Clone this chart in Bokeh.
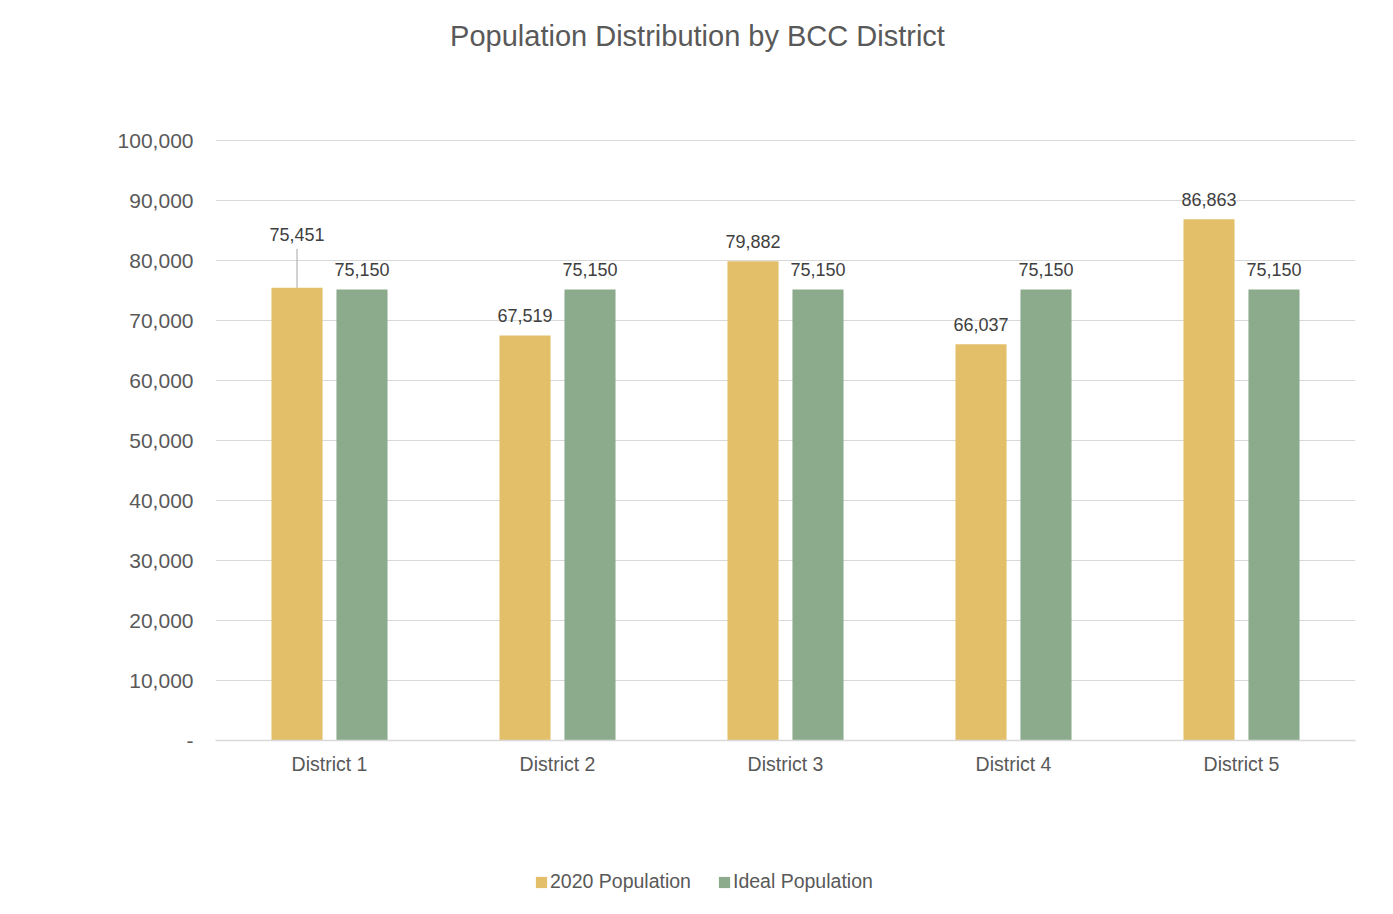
from bokeh.plotting import figure
from bokeh.layouts import column
from bokeh.models import (ColumnDataSource, FactorRange, Range1d, LabelSet, Label, Legend, LegendItem,
                          NumeralTickFormatter)
from bokeh.transform import dodge
from bokeh.embed import file_html
from bokeh.resources import INLINE
from bokeh.core.properties import value

districts = ["District 1", "District 2", "District 3", "District 4", "District 5"]
pop_2020 = [75451, 67519, 79882, 66037, 86863]
pop_ideal = [75150, 75150, 75150, 75150, 75150]
y_ticks = [0, 10000, 20000, 30000, 40000, 50000, 60000, 70000, 80000, 90000, 100000]
series_names = ["2020 Population", "Ideal Population"]
title_text = "Population Distribution by BCC District"

FONT = "Liberation Sans"
TXT = "#595959"
YEL = "#E4BF6A"
GRN = "#8CAB8D"

W = 1385
H_MAIN = 780
H_LEG = 126
FL, FR, FT, FB = 215, 30, 0, 40
frame_h = H_MAIN - FT - FB           # 740 px
px_per_10k = 60.0                    # 100,000 spans 600 px
y_end = frame_h / px_per_10k * 10000
units_per_px = 10000 / px_per_10k

off_2020 = [53, 20, 20, 20, 20]
off_ideal = [20, 20, 20, 20, 20]

src = ColumnDataSource(dict(
    district=districts,
    p2020=pop_2020,
    ideal=pop_ideal,
    t2020=[f"{v:,}" for v in pop_2020],
    tideal=[f"{v:,}" for v in pop_ideal],
    o2020=off_2020,
    oideal=off_ideal,
))

p = figure(width=W, height=H_MAIN, x_range=FactorRange(*districts), y_range=Range1d(0, y_end),
           output_backend="svg", toolbar_location=None,
           min_border_left=FL, min_border_right=FR, min_border_top=FT, min_border_bottom=FB)
p.outline_line_color = None
p.background_fill_color = "white"
p.border_fill_color = "white"

# chart title (inside the frame's empty top area)
p.add_layout(Label(x=482, y=705, x_units="screen", y_units="screen", text=title_text,
                   text_align="center", text_baseline="middle",
                   text_font=FONT, text_font_size="29px", text_color=TXT))

p.vbar(x=dodge("district", -0.1425, range=p.x_range), top="p2020", width=0.224,
       source=src, fill_color=YEL, line_color=None)
p.vbar(x=dodge("district", 0.1425, range=p.x_range), top="ideal", width=0.224,
       source=src, fill_color=GRN, line_color=None)

lead_src = ColumnDataSource(dict(
    x=[districts[0]],
    y0=[pop_2020[0]],
    y1=[pop_2020[0] + 39 * units_per_px],
))
p.segment(x0=dodge("x", -0.1425, range=p.x_range), x1=dodge("x", -0.1425, range=p.x_range),
          y0="y0", y1="y1", source=lead_src, line_color="#A6A6A6", line_width=1)

for xo, col, tcol, ocol in [(-0.1425, "p2020", "t2020", "o2020"), (0.1425, "ideal", "tideal", "oideal")]:
    p.add_layout(LabelSet(x=dodge("district", xo, range=p.x_range), y=col, text=tcol, source=src,
                          y_offset=ocol, text_align="center", text_baseline="middle",
                          text_font=value(FONT), text_font_size="18px", text_color="#404040"))

p.yaxis.ticker = y_ticks
p.yaxis.formatter = NumeralTickFormatter(format="0,0")
p.yaxis.major_label_overrides = {0: "-"}
p.yaxis.axis_line_color = None
p.yaxis.major_tick_line_color = None
p.yaxis.minor_tick_line_color = None
p.yaxis.major_tick_out = 0
p.yaxis.major_label_standoff = 22
p.yaxis.major_label_text_font = FONT
p.yaxis.major_label_text_font_size = "21px"
p.yaxis.major_label_text_color = TXT

p.xaxis.axis_line_color = "#D9D9D9"
p.xaxis.axis_line_width = 1.5
p.xaxis.major_tick_line_color = None
p.xaxis.minor_tick_line_color = None
p.xaxis.major_tick_out = 0
p.xaxis.major_label_standoff = 12
p.xaxis.major_label_text_font = FONT
p.xaxis.major_label_text_font_size = "19.5px"
p.xaxis.major_label_text_color = TXT

p.xgrid.grid_line_color = None
p.ygrid.grid_line_color = "#D9D9D9"
p.ygrid.grid_line_width = 1

# legend strip below the chart: same series as hidden renderers, only their legend shows
lf = figure(width=W, height=H_LEG, x_range=p.x_range, y_range=Range1d(-300000, -200000),
            x_axis_type=None, y_axis_type=None, output_backend="svg", toolbar_location=None,
            min_border=0)
lf.outline_line_color = None
lf.xgrid.grid_line_color = None
lf.ygrid.grid_line_color = None
k1 = lf.vbar(x=dodge("district", -0.1425, range=lf.x_range), top="p2020", width=0.224,
             source=src, fill_color=YEL, line_color=None, visible=False)
k2 = lf.vbar(x=dodge("district", 0.1425, range=lf.x_range), top="ideal", width=0.224,
             source=src, fill_color=GRN, line_color=None, visible=False)
legend = Legend(items=[LegendItem(label=series_names[0], renderers=[k1]),
                       LegendItem(label=series_names[1], renderers=[k2])],
                location=(319, 13), orientation="horizontal", click_policy="none",
                padding=0, margin=0, spacing=26, label_standoff=2,
                glyph_width=14, glyph_height=14,
                label_text_font=FONT, label_text_font_size="19.5px", label_text_color=TXT,
                border_line_color=None, background_fill_alpha=0)
lf.add_layout(legend, "center")

layout = column(p, lf, spacing=0)
open("out.html", "w").write(file_html(layout, INLINE))
